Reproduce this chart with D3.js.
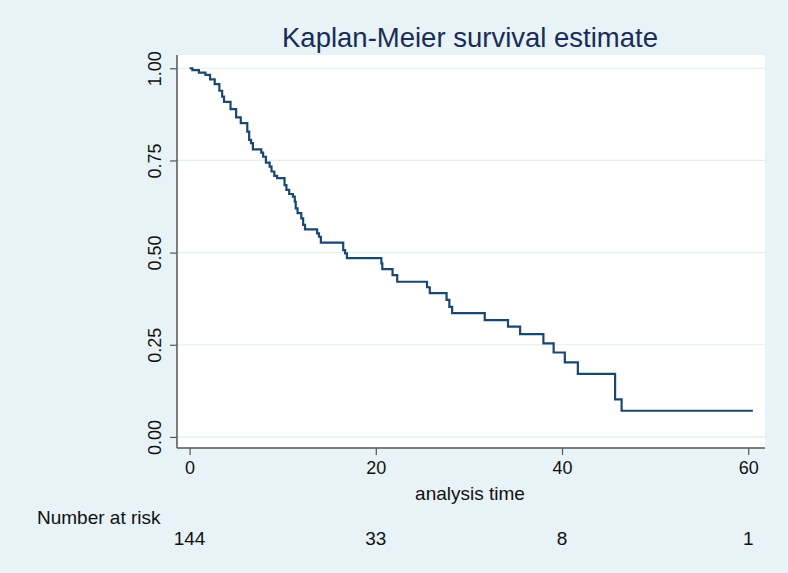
<!DOCTYPE html>
<html>
<head>
<meta charset="utf-8">
<script src="https://cdn.jsdelivr.net/npm/d3@7"></script>
<style>
  html, body { margin: 0; padding: 0; background: #e7f3f6; }
  svg { display: block; font-family: "Liberation Sans", Arial, Helvetica, sans-serif; }
</style>
</head>
<body>
<svg id="chart" width="788" height="573"></svg>
<script>
// ---- data ----
const titleText = "Kaplan-Meier survival estimate";
const xTitle = "analysis time";
const riskLabel = "Number at risk";
const eventTimes = [0, 0.3, 1.0, 1.7, 2.2, 2.7, 3.2, 3.5, 3.7, 4.4, 5.0, 5.5, 6.2, 6.4, 6.6, 6.8, 7.7, 7.9, 8.2, 8.6, 8.8, 9.1, 9.4, 10.2, 10.4, 10.7, 11.1, 11.3, 11.4, 11.6, 12.0, 12.2, 12.4, 13.7, 13.9, 14.1, 16.5, 16.7, 16.9, 20.6, 20.7, 21.8, 22.3, 25.5, 25.8, 27.6, 27.9, 28.2, 31.7, 34.2, 35.5, 38.0, 39.1, 40.3, 41.7, 45.7, 46.4];
const survival = [1.000, 0.995, 0.988, 0.982, 0.970, 0.957, 0.939, 0.923, 0.909, 0.889, 0.867, 0.851, 0.828, 0.806, 0.797, 0.780, 0.771, 0.760, 0.744, 0.733, 0.720, 0.708, 0.702, 0.683, 0.670, 0.659, 0.652, 0.638, 0.620, 0.607, 0.593, 0.575, 0.563, 0.552, 0.543, 0.527, 0.507, 0.498, 0.485, 0.471, 0.455, 0.439, 0.421, 0.406, 0.390, 0.372, 0.353, 0.336, 0.317, 0.299, 0.279, 0.254, 0.229, 0.202, 0.171, 0.102, 0.071];
const lastTime = 60.5;
const xTicks = [0, 20, 40, 60];
const yTicks = [0, 0.25, 0.5, 0.75, 1];
const riskTimes = [0, 20, 40, 60];
const riskCounts = [144, 33, 8, 1];

(function () {
// ---- layout ----
const svg = d3.select("#chart");
const W = 788, H = 573;
const pL = 177, pR = 765, pT = 55, pB = 448;

svg.append("rect").attr("x", 0).attr("y", 0).attr("width", W).attr("height", H).attr("fill", "#e7f3f6");

const x = d3.scaleLinear().domain([-1.35, 61.8]).range([pL, pR]);
const y = d3.scaleLinear().domain([-0.03, 1.036]).range([pB, pT]);

// plot region
svg.append("rect").attr("x", pL).attr("y", pT).attr("width", pR - pL).attr("height", pB - pT).attr("fill", "#ffffff");

// grid lines
svg.append("g").selectAll("line").data(yTicks).join("line")
  .attr("x1", pL).attr("x2", pR)
  .attr("y1", d => y(d)).attr("y2", d => y(d))
  .attr("stroke", "#e3eef2").attr("stroke-width", 1.2);

// survival curve
const pts = eventTimes.map((t, i) => [t, survival[i]]);
pts.push([lastTime, survival[survival.length - 1]]);
const line = d3.line().x(d => x(d[0])).y(d => y(d[1])).curve(d3.curveStepAfter);
svg.append("path").datum(pts).attr("d", line)
  .attr("fill", "none").attr("stroke", "#1a476f").attr("stroke-width", 2.2);

// y axis
const yAxis = d3.axisLeft(y).tickValues(yTicks).tickFormat(d3.format(".2f")).tickSize(7).tickPadding(4);
const gy = svg.append("g").attr("transform", `translate(${pL},0)`).call(yAxis);
gy.select(".domain").attr("d", `M0,${pT}V${pB}`).attr("stroke", "#555").attr("stroke-width", 1.5);
gy.selectAll(".tick line").attr("stroke", "#555").attr("stroke-width", 1.2);
gy.selectAll(".tick text")
  .attr("font-size", 18).attr("fill", "#111")
  .attr("text-anchor", "middle").attr("dy", 0)
  .attr("font-family", "'Liberation Sans', Arial, sans-serif")
  .attr("transform", "translate(-16,0) rotate(-90)")
  .attr("x", 0).attr("y", 0);

// x axis
const xAxis = d3.axisBottom(x).tickValues(xTicks).tickFormat(d3.format("d")).tickSize(7).tickPadding(6);
const gx = svg.append("g").attr("transform", `translate(0,${pB})`).call(xAxis);
gx.select(".domain").attr("d", `M${pL},0H${pR}`).attr("stroke", "#555").attr("stroke-width", 1.5);
gx.selectAll(".tick line").attr("stroke", "#555").attr("stroke-width", 1.2);
gx.selectAll(".tick text").attr("font-size", 18).attr("fill", "#111")
  .attr("font-family", "'Liberation Sans', Arial, sans-serif");

// titles
svg.append("text").attr("x", 470).attr("y", 47).attr("text-anchor", "middle")
  .attr("font-size", 27.5).attr("fill", "#1a2c58").text(titleText);
svg.append("text").attr("x", 470).attr("y", 500).attr("text-anchor", "middle")
  .attr("font-size", 19).attr("fill", "#111").text(xTitle);

// number at risk
svg.append("text").attr("x", 37).attr("y", 524).attr("font-size", 19).attr("fill", "#111").text(riskLabel);
svg.append("g").selectAll("text").data(riskCounts).join("text")
  .attr("x", (d, i) => x(riskTimes[i])).attr("y", 545)
  .attr("text-anchor", "middle").attr("font-size", 19).attr("fill", "#111")
  .text(d => d);
})();
</script>
</body>
</html>
